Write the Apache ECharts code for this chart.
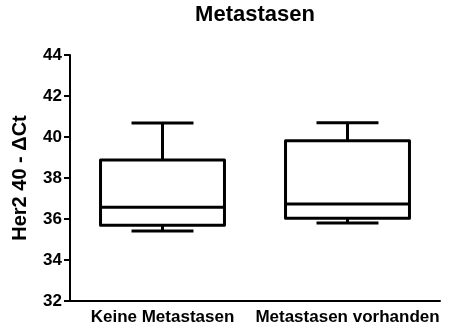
<!DOCTYPE html>
<html>
<head>
<meta charset="utf-8">
<script src="https://cdn.jsdelivr.net/npm/echarts@6/dist/echarts.min.js"></script>
<style>
  html, body { margin: 0; padding: 0; background: #fff; }
  #chart { width: 457px; height: 331px; }
</style>
</head>
<body>
<div id="chart"></div>
<script>
// Group labels and five-number summaries (whisker low, Q1, median, Q3, whisker high)
const categories = ['Keine Metastasen', 'Metastasen vorhanden'];
const whiskerLow  = [35.41, 35.81];
const quartile1   = [35.69, 36.04];
const medians     = [36.57, 36.73];
const quartile3   = [38.88, 39.82];
const whiskerHigh = [40.68, 40.70];
const yTicks = { min: 32, max: 44, step: 2 };

const FONT = '"Liberation Sans", Arial, sans-serif';

const seriesData = categories.map((c, i) => [
  i, whiskerLow[i], quartile1[i], medians[i], quartile3[i], whiskerHigh[i]
]);

// Box with half-width whisker caps
function renderBox(params, api) {
  const idx = api.value(0);
  const pLo  = api.coord([idx, api.value(1)]);
  const pQ1  = api.coord([idx, api.value(2)]);
  const pMed = api.coord([idx, api.value(3)]);
  const pQ3  = api.coord([idx, api.value(4)]);
  const pHi  = api.coord([idx, api.value(5)]);
  const band = api.size([1, 0])[0];
  const halfBox = band * 0.335;
  const halfCap = halfBox * 0.5;
  const cx = pMed[0];
  const stroke = { stroke: '#000', lineWidth: 3, fill: null };
  const line = (x1, y1, x2, y2) => ({
    type: 'line', shape: { x1, y1, x2, y2 }, style: stroke
  });
  return {
    type: 'group',
    children: [
      line(cx, pQ3[1], cx, pHi[1]),
      line(cx - halfCap, pHi[1], cx + halfCap, pHi[1]),
      line(cx, pQ1[1], cx, pLo[1]),
      line(cx - halfCap, pLo[1], cx + halfCap, pLo[1]),
      {
        type: 'rect',
        shape: { x: cx - halfBox, y: pQ3[1], width: halfBox * 2, height: pQ1[1] - pQ3[1] },
        style: { stroke: '#000', lineWidth: 3, fill: '#fff', lineJoin: 'round' }
      },
      line(cx - halfBox, pMed[1], cx + halfBox, pMed[1])
    ]
  };
}

const chart = echarts.init(document.getElementById('chart'), null, { renderer: 'canvas' });
chart.setOption({
  animation: false,
  backgroundColor: '#fff',
  title: {
    text: 'Metastasen',
    left: 255,
    textAlign: 'center',
    top: 4,
    padding: 0,
    textStyle: { fontFamily: FONT, fontWeight: 'bold', fontSize: 22, color: '#000' }
  },
  grid: { left: 70, right: 17, top: 55, bottom: 30 },
  xAxis: {
    type: 'category',
    data: categories,
    axisLine: { lineStyle: { color: '#000', width: 2 } },
    axisTick: { alignWithLabel: true, length: 5, lineStyle: { color: '#000', width: 2 } },
    axisLabel: { fontFamily: FONT, fontWeight: 'bold', fontSize: 17, color: '#000', margin: 8, interval: 0 },
    splitLine: { show: false }
  },
  yAxis: {
    type: 'value',
    min: yTicks.min,
    max: yTicks.max,
    interval: yTicks.step,
    name: 'Her2 40 - \u0394Ct',
    nameLocation: 'middle',
    nameGap: 40,
    nameTextStyle: { fontFamily: FONT, fontWeight: 'bold', fontSize: 20, color: '#000' },
    axisLine: { show: true, lineStyle: { color: '#000', width: 2 } },
    axisTick: { show: true, length: 6, lineStyle: { color: '#000', width: 2 } },
    axisLabel: { fontFamily: FONT, fontWeight: 'bold', fontSize: 17, color: '#000', margin: 8 },
    splitLine: { show: false }
  },
  series: [{
    type: 'custom',
    renderItem: renderBox,
    encode: { x: 0, y: [1, 2, 3, 4, 5] },
    data: seriesData
  }]
});
</script>
</body>
</html>
